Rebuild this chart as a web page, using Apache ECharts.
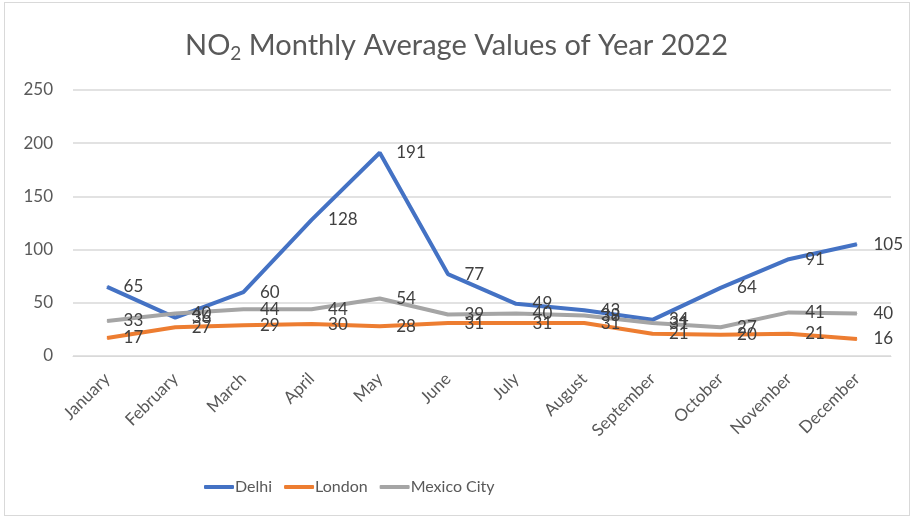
<!DOCTYPE html>
<html>
<head>
<meta charset="utf-8">
<title>NO2 Monthly Average Values of Year 2022</title>
<script src="https://cdn.jsdelivr.net/npm/echarts@6/dist/echarts.min.js"></script>
<style>
  html, body { margin: 0; padding: 0; background: #fff; }
  #wrap { position: absolute; left: 4px; top: 2px; width: 904px; height: 512px; border: 1px solid #d9d9d9; }
  #chart { position: absolute; left: -5px; top: -3px; width: 913px; height: 520px; }
</style>
</head>
<body>
<div id="wrap"><div id="chart"></div></div>
<script>
var months = ['January', 'February', 'March', 'April', 'May', 'June', 'July', 'August', 'September', 'October', 'November', 'December'];
var delhi = [65, 36, 60, 128, 191, 77, 49, 43, 34, 64, 91, 105];
var london = [17, 27, 29, 30, 28, 31, 31, 31, 21, 20, 21, 16];
var mexico = [33, 40, 44, 44, 54, 39, 40, 38, 31, 27, 41, 40];
var yTicks = [0, 50, 100, 150, 200, 250];

var font = 'Lato, "Open Sans", sans-serif';

function line(name, data, color) {
    return {
        name: name,
        type: 'line',
        data: data,
        showSymbol: true,
        symbol: 'circle',
        symbolSize: 1,
        lineStyle: { width: 4, color: color },
        itemStyle: { color: color },
        label: {
            show: true,
            position: 'right',
            distance: 16,
            color: '#404040',
            fontSize: 17,
            fontFamily: font
        },
        labelLayout: { hideOverlap: false },
        emphasis: { disabled: true }
    };
}

var chart = echarts.init(document.getElementById('chart'));
chart.setOption({
    animation: false,
    title: {
        text: '{a|NO}{b|2}{a| Monthly Average Values of Year 2022}',
        left: 'center',
        top: 24,
        textStyle: {
            rich: {
                a: { fontSize: 29, fontWeight: 'normal', color: '#595959', fontFamily: font },
                b: { fontSize: 19, fontWeight: 'normal', color: '#595959', fontFamily: font, padding: [15, 0, 0, 0] }
            }
        }
    },
    legend: {
        bottom: 20,
        left: 199,
        itemWidth: 30,
        itemHeight: 4,
        itemGap: 12,
        icon: 'roundRect',
        textStyle: { color: '#595959', fontSize: 16, fontFamily: font, padding: [0, 0, 0, -4] },
        data: ['Delhi', 'London', 'Mexico City']
    },
    grid: { left: 73, right: 22, top: 90, bottom: 164 },
    xAxis: {
        type: 'category',
        data: months,
        boundaryGap: true,
        axisLine: { lineStyle: { color: '#d9d9d9', width: 1 } },
        axisTick: { show: false },
        axisLabel: {
            rotate: 45,
            interval: 0,
            color: '#595959',
            fontSize: 17,
            fontFamily: font,
            margin: 20
        }
    },
    yAxis: {
        type: 'value',
        min: yTicks[0],
        max: yTicks[yTicks.length - 1],
        interval: 50,
        axisLine: { show: false },
        axisTick: { show: false },
        splitLine: { lineStyle: { color: '#d9d9d9', width: 1.5 } },
        axisLabel: { color: '#595959', fontSize: 17, fontFamily: font, margin: 20 }
    },
    series: [
        line('Delhi', delhi, '#4472C4'),
        line('London', london, '#ED7D31'),
        line('Mexico City', mexico, '#A5A5A5')
    ]
});
</script>
</body>
</html>
